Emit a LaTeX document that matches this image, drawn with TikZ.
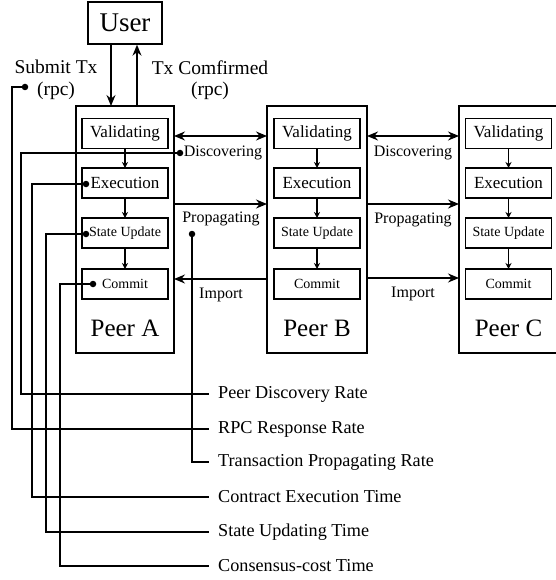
\documentclass[tikz,border=0pt]{standalone}
\usepackage{fontspec}
\setmainfont{Liberation Serif}
\usetikzlibrary{arrows.meta}
\begin{document}
\begin{tikzpicture}[x=1pt,y=-1pt,
  lw/.style={line width=1.4pt},
  peerbox/.style={draw,lw,inner sep=0pt,outer sep=0pt,minimum width=98pt,minimum height=247pt},
  stagebox/.style={draw,lw,inner sep=0pt,outer sep=0pt,minimum width=86pt,minimum height=30pt},
  bigtip/.style={-{Stealth[length=11pt,width=9pt]}},
  dbltip/.style={{Stealth[length=11pt,width=9pt]}-{Stealth[length=11pt,width=9pt]}},
  smalltip/.style={-{Stealth[length=6pt,width=6pt]}},
  dotn/.style={circle,fill,inner sep=0pt,minimum size=6.5pt},
  fs/.style={font=\fontsize{#1}{#1}\selectfont},
  metric/.style={anchor=west,inner xsep=9pt,inner ysep=0pt,fs=18.2},
]
\useasboundingbox (0,0) rectangle (555,580);

% user
\node[draw,lw,inner sep=0pt,minimum width=74pt,minimum height=42pt,fs=27] (user) at (125,23) {User};

% peers
\node[peerbox] (pa) at (125,229.5) {};
\node[peerbox,minimum width=100pt] (pb) at (317,229.5) {};
\node[peerbox,minimum width=100pt] (pc) at (509,229.5) {};

\node[anchor=base,fs=25,inner sep=0pt] (pal) at (125,336) {Peer A};
\node[anchor=base,fs=25,inner sep=0pt] (pbl) at (317,336) {Peer B};
\node[anchor=base,fs=25,inner sep=0pt] (pcl) at (508.5,336) {Peer C};

% stages
\foreach \p/\x in {a/125,b/317,c/508.5}{
  \node[stagebox,fs=17] (v\p) at (\x,133.5) {Validating};
  \node[stagebox,fs=17] (e\p) at (\x,183) {Execution};
  \node[stagebox,fs=14] (s\p) at (\x,233) {State Update};
  \node[stagebox,fs=14] (c\p) at (\x,284) {Commit};
  \draw[lw,smalltip] (v\p) -- (e\p);
  \draw[lw,smalltip] (e\p) -- (s\p);
  \draw[lw,smalltip] (s\p) -- (c\p);
}

% user arrows
\draw[lw,bigtip] (user.south -| 111,0) -- (pa.north -| 111,0);
\draw[lw,bigtip] (pa.north -| 137,0) -- (user.south -| 137,0);
\node[fs=19.5,align=center,inner sep=0pt] (sub) at (56,80) {Submit Tx\\[2pt](rpc)};
\node[fs=19.5,align=center,inner sep=0pt] (conf) at (210,80) {Tx Comfirmed\\[2pt](rpc)};

% peer links
\draw[lw,dbltip] (pa.east |- 0,136) -- (pb.west |- 0,136);
\draw[lw,bigtip] (pa.east |- 0,204) -- (pb.west |- 0,204);
\draw[lw,bigtip] (pb.west |- 0,279) -- (pa.east |- 0,279);
\draw[lw,dbltip] (pb.east |- 0,136) -- (pc.west |- 0,136);
\draw[lw,bigtip] (pb.east |- 0,204) -- (pc.west |- 0,204);
\draw[lw,bigtip] (pb.east |- 0,278) -- (pc.west |- 0,278);

\node[fs=16,inner sep=0pt] (disa) at (223,153) {Discovering};
\node[fs=16,inner sep=0pt] (propa) at (221,219) {Propagating};
\node[fs=16,inner sep=0pt] (impa) at (221,295) {Import};
\node[fs=16,inner sep=0pt] (disb) at (413,153) {Discovering};
\node[fs=16,inner sep=0pt] (propb) at (413,220) {Propagating};
\node[fs=16,inner sep=0pt] (impb) at (413,294) {Import};

% measurement dots
\node[dotn] (dd) at (180,153) {};
\node[dotn] (ds) at (25,87) {};
\node[dotn] (dp) at (192,234) {};
\node[dotn] (de) at (86,184) {};
\node[dotn] (dsu) at (86,234) {};
\node[dotn] (dc) at (93,284) {};

% metric labels
\node[metric] (m1) at (209,394) {Peer Discovery Rate};
\node[metric] (m2) at (209,429) {RPC Response Rate};
\node[metric] (m3) at (209,462) {Transaction Propagating Rate};
\node[metric] (m4) at (209,497) {Contract Execution Time};
\node[metric] (m5) at (209,532) {State Updating Time};
\node[metric] (m6) at (209,566) {Consensus-cost Time};

\coordinate (k1) at (21,394);
\coordinate (k2) at (12,429);
\coordinate (k3) at (192,462);
\coordinate (k4) at (32,497);
\coordinate (k5) at (46,532);
\coordinate (k6) at (60,566);

\draw[lw] (dd.center) -| (k1) -- (m1.west);
\draw[lw] (ds.center) -| (k2) -- (m2.west);
\draw[lw] (dp.center) -- (k3) -- (m3.west);
\draw[lw] (de.center) -| (k4) -- (m4.west);
\draw[lw] (dsu.center) -| (k5) -- (m5.west);
\draw[lw] (dc.center) -| (k6) -- (m6.west);
\end{tikzpicture}
\end{document}
